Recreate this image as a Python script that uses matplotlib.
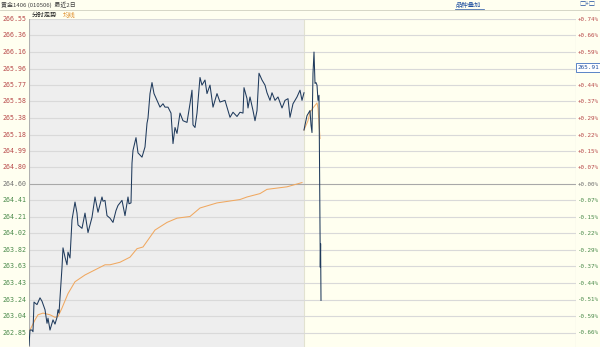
import matplotlib
matplotlib.use("Agg")
import matplotlib.pyplot as plt
from matplotlib.patches import Rectangle

plt.rcParams['font.family'] = ['Noto Sans CJK SC', 'DejaVu Sans']

# ---------------- data ----------------
price_labels = ["266.55", "266.36", "266.16", "265.96", "265.77", "265.58", "265.38",
                "265.18", "264.99", "264.80", "264.60", "264.41", "264.21", "264.02",
                "263.82", "263.63", "263.43", "263.24", "263.04", "262.85"]
# the +0.51% slot is hidden behind the current-price box in the reference
pct_labels = ["+0.74%", "+0.66%", "+0.59%", "", "+0.44%", "+0.37%", "+0.29%",
              "+0.22%", "+0.15%", "+0.07%", "+0.00%", "-0.07%", "-0.15%", "-0.22%",
              "-0.29%", "-0.37%", "-0.44%", "-0.51%", "-0.59%", "-0.66%"]
base_price = 264.60
last_price = "265.91"

day1_t = [0, 1, 3, 4, 5, 8, 11, 13, 16, 18, 19, 21, 24, 26, 28, 29, 30, 33, 34, 36,
          38, 39, 41, 43, 46, 48, 49, 53, 56, 59, 63, 66, 69, 73, 74, 76, 78, 81, 84,
          87, 89, 93, 96, 99, 100, 102, 103, 104, 107, 109, 113, 116, 118, 119, 121,
          123, 125, 128, 131, 134, 136, 139, 142, 144, 146, 148, 151, 154, 158, 161,
          163, 164, 166, 168, 171, 173, 176, 178, 181, 184, 188, 191, 196, 199, 201,
          204, 208, 211, 214, 215, 218, 219, 221, 224, 226, 228, 230, 233, 236, 238,
          241, 243, 246, 249, 253, 256, 259, 261, 264, 268, 271, 273, 275]
day1_price = [262.70, 262.88, 262.88, 262.86, 263.21, 263.18, 263.26, 263.22, 263.12,
              262.96, 263.02, 262.88, 263.00, 262.95, 263.03, 263.12, 263.08, 263.62,
              263.85, 263.74, 263.65, 263.80, 263.73, 264.18, 264.39, 264.26, 264.12,
              264.08, 264.26, 264.03, 264.21, 264.45, 264.27, 264.45, 264.40, 264.41,
              264.23, 264.20, 264.15, 264.29, 264.35, 264.41, 264.23, 264.45, 264.37,
              264.38, 264.85, 265.00, 265.15, 264.97, 264.92, 265.04, 265.32, 265.38,
              265.67, 265.80, 265.67, 265.59, 265.51, 265.55, 265.51, 265.51, 265.44,
              265.08, 265.27, 265.20, 265.44, 265.35, 265.33, 265.55, 265.71, 265.30,
              265.27, 265.44, 265.86, 265.77, 265.83, 265.67, 265.77, 265.51, 265.67,
              265.57, 265.59, 265.47, 265.39, 265.45, 265.40, 265.45, 265.44, 265.74,
              265.61, 265.50, 265.63, 265.47, 265.35, 265.47, 265.91, 265.83, 265.77,
              265.68, 265.59, 265.68, 265.59, 265.63, 265.50, 265.59, 265.61, 265.39,
              265.55, 265.63, 265.71, 265.59, 265.68]

day2_t = [275, 276, 278, 281, 282, 283, 284, 285, 286, 287, 288, 289, 290, 290.5,
          291, 291.3, 291.6, 292]
day2_price = [265.24, 265.30, 265.41, 265.47, 265.30, 265.21, 265.91, 266.16, 265.79,
              265.80, 265.77, 265.59, 265.65, 264.90, 264.09, 263.62, 263.90, 263.23]

avg1_t = [1, 6, 9, 14, 21, 26, 29, 33, 39, 46, 56, 66, 76, 81, 91, 101, 108, 114,
          126, 138, 148, 161, 171, 188, 211, 218, 231, 238, 258, 273]
avg1 = [262.88, 263.00, 263.06, 263.08, 263.06, 263.03, 263.04, 263.14, 263.31,
        263.45, 263.53, 263.59, 263.65, 263.65, 263.68, 263.74, 263.84, 263.86,
        264.06, 264.15, 264.20, 264.22, 264.32, 264.38, 264.42, 264.45, 264.49,
        264.54, 264.57, 264.62]

avg2_t = [275, 279, 281, 284, 288, 289, 291]
avg2 = [265.24, 265.35, 265.45, 265.50, 265.56, 265.50, 265.14]

# ---------------- layout ----------------
W, H = 600, 347
fig = plt.figure(figsize=(W / 100, H / 100), dpi=100)
cream = "#fffff0"
fig.patch.set_facecolor(cream)

ax_left, ax_right, ax_top, ax_bottom = 29, 576, 19, 347
ax = fig.add_axes([ax_left / W, 1 - ax_bottom / H, (ax_right - ax_left) / W,
                   (ax_bottom - ax_top) / H])
ax.set_facecolor(cream)
ax.set_xlim(0, 547)
ax.set_ylim(262.68, 266.55)

# day 1 gray background
ax.add_patch(Rectangle((0, 262.68), 275, 266.55 - 262.68, facecolor="#eeeeee",
                       edgecolor="none", zorder=0))
ax.axvline(275, color="#e2e2d0", lw=0.8, zorder=1)

ticks = [float(s) for s in price_labels]
for v in ticks:
    c = "#a8a8a8" if abs(v - base_price) < 1e-6 else "#d9d9d9"
    ax.axhline(v, color=c, lw=0.8, zorder=1)

for s in ax.spines.values():
    s.set_visible(False)
ax.axvline(0, color="#b0b0b0", lw=0.8, zorder=2)
ax.axvline(547, color="#c8c8c8", lw=0.8, zorder=2)
ax.set_xticks([])
ax.set_yticks([])

# lines
ax.plot(avg1_t, avg1, color="#f0a860", lw=0.75, zorder=3)
ax.plot(avg2_t, avg2, color="#f0b070", lw=0.75, zorder=3)
ax.plot(day1_t, day1_price, color="#1f3a5c", lw=0.75, zorder=4)
ax.plot(day2_t, day2_price, color="#1f3a5c", lw=0.75, zorder=4)

mono = ["DejaVu Sans Mono", "DejaVu Sans"]
# y labels
trL = ax.get_yaxis_transform()
for s in price_labels:
    v = float(s)
    if abs(v - base_price) < 1e-6:
        col = "#707070"
    elif v > base_price:
        col = "#b84a4a"
    else:
        col = "#4a8a4a"
    ax.text(-0.004, v, s, transform=trL, ha="right", va="center", fontsize=4.8,
            color=col, family=mono)
for s, p in zip(pct_labels, price_labels):
    if not s:
        continue
    v = float(p)
    if s == "+0.00%":
        col = "#707070"
    elif s.startswith("+"):
        col = "#b84a4a"
    else:
        col = "#4a8a4a"
    ax.text(1.004, v, s, transform=trL, ha="left", va="center", fontsize=4.2,
            color=col, family=mono)

# current price box
ax.text(1.003, float(price_labels[3]) + 0.02, last_price, transform=trL, ha="left",
        va="center", fontsize=4.3, color="#2050a0", zorder=10, family=mono,
        bbox=dict(boxstyle="square,pad=0.3", facecolor="white",
                  edgecolor="#4070c0", lw=0.6))

# header
fig.add_artist(plt.Line2D([0, 1], [1 - 10 / H, 1 - 10 / H], color="#d0d0c0", lw=0.6))
fig.text(1 / W, 1 - 5 / H, "黄金1406 (010506)  最近2日", ha="left", va="center",
         fontsize=4.3, color="#404040")
fig.text(455 / W, 1 - 4.5 / H, "品种叠加", ha="left", va="center", fontsize=4.6,
         color="#2050a0")
fig.add_artist(plt.Line2D([455 / W, 484 / W], [1 - 9 / H, 1 - 9 / H],
                          color="#2050a0", lw=0.5))
fig.text(579 / W, 1 - 4.5 / H, "□+□", ha="left", va="center", fontsize=4.5,
         color="#2050a0")
fig.text(32 / W, 1 - 14.5 / H, "分时走势", ha="left", va="center", fontsize=4.6,
         color="#202020")
fig.text(63 / W, 1 - 14.5 / H, "均线", ha="left", va="center", fontsize=4.6,
         color="#e09030")

fig.savefig("out.png", dpi=100, facecolor=fig.get_facecolor())
